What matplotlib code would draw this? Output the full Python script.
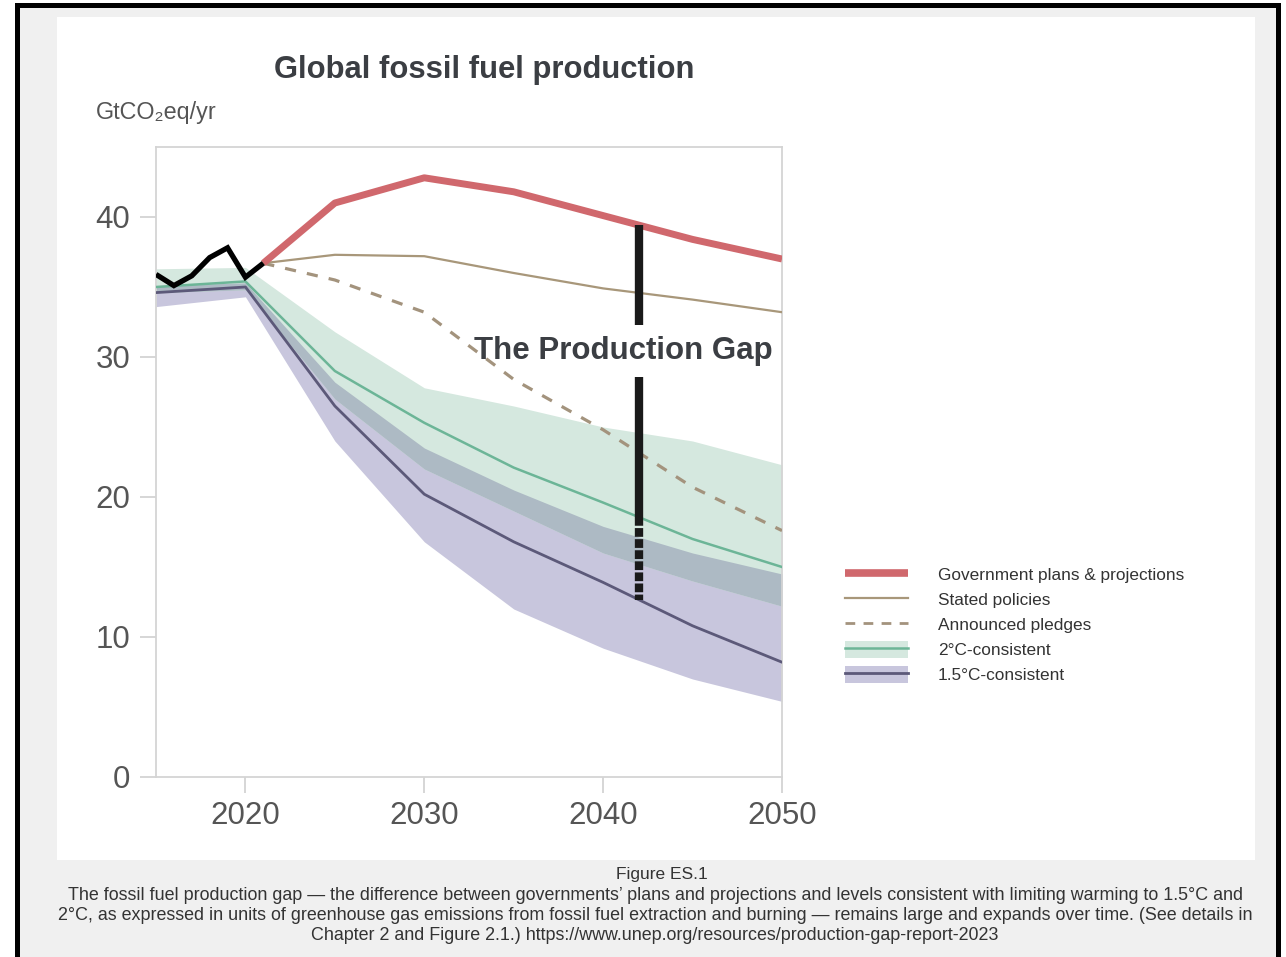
import matplotlib
matplotlib.use("Agg")
import matplotlib.pyplot as plt
import numpy as np
from matplotlib.patches import Rectangle, Patch
from matplotlib.lines import Line2D

# ---------------- data ----------------
hist_years = [2015, 2016, 2017, 2018, 2019, 2020, 2021]
hist_vals = [35.9, 35.1, 35.8, 37.1, 37.8, 35.7, 36.7]

proj_years = [2021, 2025, 2030, 2035, 2040, 2045, 2050]
gov_plans = [36.7, 41.0, 42.8, 41.8, 40.1, 38.4, 37.0]
stated_policies = [36.7, 37.3, 37.2, 36.0, 34.9, 34.1, 33.2]
announced_pledges = [36.7, 35.5, 33.2, 28.4, 24.8, 20.7, 17.6]

scen_years = [2015, 2020, 2025, 2030, 2035, 2040, 2045, 2050]
c2_med = [35.0, 35.4, 29.0, 25.3, 22.1, 19.6, 17.0, 15.0]
c2_hi = [36.3, 36.4, 31.8, 27.8, 26.5, 25.0, 24.0, 22.3]
c2_lo = [34.6, 34.8, 27.0, 22.0, 19.0, 16.0, 14.0, 12.2]
c15_med = [34.6, 35.0, 26.5, 20.2, 16.8, 13.9, 10.8, 8.2]
c15_hi = [35.1, 35.3, 28.2, 23.5, 20.5, 17.9, 16.0, 14.5]
c15_lo = [33.6, 34.3, 24.0, 16.8, 12.0, 9.2, 7.0, 5.4]

gap_year = 2042
x_ticks = [2020, 2030, 2040, 2050]
y_ticks = [0, 10, 20, 30, 40]

legend_labels = ["Government plans & projections", "Stated policies",
                 "Announced pledges", "2°C-consistent", "1.5°C-consistent"]

# ---------------- style ----------------
RED = "#d0686d"
TAN = "#a8977a"
DASH = "#a3937d"
GREEN = "#6cb597"
GREEN_BAND = "#d5e8df"
PURPLE = "#5c5979"
PURPLE_BAND = "#c8c6dd"
OVERLAP = "#adbac4"
TXT = "#3b3e43"
FONT = ["Liberation Sans", "DejaVu Sans"]

W, H = 1286, 957
fig = plt.figure(figsize=(W / 100, H / 100), dpi=100, facecolor="white")


def rect(x0, y0, x1, y1, color, z):
    r = Rectangle((x0 / W, 1 - y1 / H), (x1 - x0) / W, (y1 - y0) / H,
                  transform=fig.transFigure, facecolor=color, edgecolor="none",
                  zorder=z)
    fig.add_artist(r)


rect(15, 3, 1281, 957, "black", -10)
rect(20, 8, 1276, 957, "#f0f0f0", -9)
rect(57, 17, 1255, 860, "white", -8)

ax = fig.add_axes([156 / W, 1 - 777 / H, (782 - 156) / W, (777 - 147) / H])
ax.set_xlim(2015, 2050)
ax.set_ylim(0, 45)

# bands
ax.fill_between(scen_years, c15_lo, c15_hi, color=PURPLE_BAND, lw=0, zorder=1)
ax.fill_between(scen_years, c2_lo, c2_hi, color=GREEN_BAND, lw=0, zorder=1.1)
ov_lo = np.array(c2_lo)
ov_hi = np.array(c15_hi)
ax.fill_between(scen_years, ov_lo, ov_hi, where=ov_hi > ov_lo,
                color=OVERLAP, lw=0, zorder=1.2, interpolate=True)

ax.plot(scen_years, c2_med, color=GREEN, lw=1.8, zorder=3)
ax.plot(scen_years, c15_med, color=PURPLE, lw=2.0, zorder=3)

ax.plot(proj_years, announced_pledges, color=DASH, lw=2.3,
        linestyle=(0, (3.5, 3.5)), zorder=4)
ax.plot(proj_years, stated_policies, color=TAN, lw=1.6, zorder=4)
ax.plot(proj_years, gov_plans, color=RED, lw=5.0, zorder=5,
        solid_capstyle="butt", solid_joinstyle="round")
ax.plot(hist_years, hist_vals, color="black", lw=3.8, zorder=6,
        solid_joinstyle="miter", solid_capstyle="butt")

# production gap marker
g_top = np.interp(gap_year, proj_years, gov_plans)
g_mid = np.interp(gap_year, scen_years, c2_med)
g_bot = np.interp(gap_year, scen_years, c15_med)
ax.plot([gap_year, gap_year], [g_top, 32.3], color="#1a1a1a", lw=6,
        solid_capstyle="butt", zorder=7)
ax.plot([gap_year, gap_year], [28.6, g_mid], color="#1a1a1a", lw=6,
        solid_capstyle="butt", zorder=7)
ax.plot([gap_year, gap_year], [g_mid, g_bot], color="#1a1a1a", lw=6,
        linestyle=(0, (1.05, 0.28)), dash_capstyle="butt", zorder=7)
ax.text(2041.1, 30.4, "The Production Gap", ha="center", va="center",
        fontsize=22.5, fontweight="bold", color=TXT, family=FONT, zorder=8)

# axes styling
for s in ax.spines.values():
    s.set_color("#d4d4d4")
    s.set_linewidth(1.3)
ax.set_xticks(x_ticks)
ax.set_yticks(y_ticks)
ax.tick_params(axis="both", length=11.5, width=1.2, color="#cfcfcf",
               labelsize=22.5, labelcolor="#555555", pad=7)
ax.tick_params(axis="x", pad=6)
for lab in ax.get_xticklabels() + ax.get_yticklabels():
    lab.set_family(FONT)

# titles
fig.text(484 / W, 1 - 70 / H, "Global fossil fuel production", ha="center",
         va="center", fontsize=22.3, fontweight="bold", color=TXT, family=FONT)
fig.text(96 / W, 1 - 113 / H, "GtCO₂eq/yr", ha="left", va="center",
         fontsize=16.8, color="#555555", family=FONT)

# legend
handles = [
    Line2D([], [], color=RED, lw=5.5, solid_capstyle="butt"),
    Line2D([], [], color=TAN, lw=1.6),
    Line2D([], [], color=DASH, lw=2.0, linestyle=(0, (3.5, 3.0))),
    (Patch(facecolor=GREEN_BAND, edgecolor="none"), Line2D([], [], color=GREEN, lw=1.8)),
    (Patch(facecolor=PURPLE_BAND, edgecolor="none"), Line2D([], [], color=PURPLE, lw=2.0)),
]
leg = fig.legend(handles, legend_labels, loc="upper left",
                 bbox_to_anchor=(845 / W, 1 - 566 / H),
                 frameon=False, borderpad=0, borderaxespad=0,
                 handlelength=3.65, handleheight=1.1, handletextpad=1.75,
                 labelspacing=0.46, prop={"family": FONT, "size": 12.4})
for t in leg.get_texts():
    t.set_color("#333333")

# caption
fig.text(662 / W, 1 - 875 / H, "Figure ES.1", ha="center", va="center",
         fontsize=12.5, color="#333333", family=FONT)
cap_lines = [
    "The fossil fuel production gap — the difference between governments’ plans and projections and levels consistent with limiting warming to 1.5°C and",
    "2°C, as expressed in units of greenhouse gas emissions from fossil fuel extraction and burning — remains large and expands over time. (See details in",
    "Chapter 2 and Figure 2.1.) https://www.unep.org/resources/production-gap-report-2023",
]
for i, line in enumerate(cap_lines):
    fig.text(655 / W, 1 - (895 + 20 * i) / H, line, ha="center", va="center",
             fontsize=12.9, color="#333333", family=FONT)

fig.savefig("out.png", dpi=100, facecolor=fig.get_facecolor())
